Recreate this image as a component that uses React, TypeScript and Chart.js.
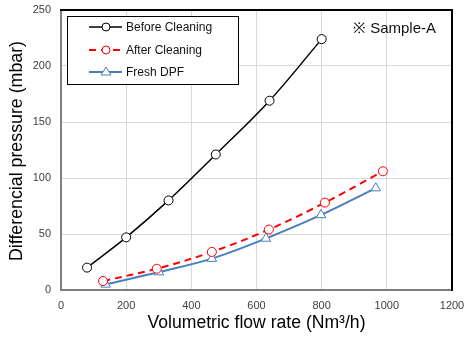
import React, { useEffect, useRef } from "react";
import { Chart, registerables } from "chart.js";

Chart.register(...registerables);

const flowBefore = [80, 200, 330, 475, 640, 800];
const dpBefore = [20, 47, 80, 121, 169, 224];
const flowAfter = [129, 294, 463, 638, 810, 988];
const dpAfter = [8, 19, 34, 54, 78, 106];
const flowFresh = [137, 301, 463, 629, 798, 966];
const dpFresh = [5, 16, 28, 46, 67, 91];

const seriesNames = ["Before Cleaning", "After Cleaning", "Fresh DPF"];
const xTitle = "Volumetric flow rate (Nm³/h)";
const yTitle = "Differencial pressure (mbar)";
const note = "※ Sample-A";

const FONT = "'Liberation Sans', Arial, sans-serif";
const BLUE = "#4a7ebb";

const toPts = (xs: number[], ys: number[]) => xs.map((x, i) => ({ x, y: ys[i] }));

const zeroPad = (s: any) => {
  s.paddingTop = 0;
  s.paddingBottom = 0;
  s.paddingLeft = 0;
  s.paddingRight = 0;
};

const decorPlugin = {
  id: "decor",
  afterDatasetsDraw(chart: any) {
    const { ctx, chartArea: a } = chart;
    ctx.save();
    ctx.lineWidth = 2;
    ctx.strokeStyle = "#7f7f7f";
    ctx.beginPath();
    ctx.moveTo(a.left, a.top);
    ctx.lineTo(a.left, a.bottom);
    ctx.lineTo(a.right, a.bottom);
    ctx.stroke();
    ctx.strokeStyle = "#000";
    ctx.beginPath();
    ctx.moveTo(a.left - 1, a.top);
    ctx.lineTo(a.right, a.top);
    ctx.lineTo(a.right, a.bottom + 1);
    ctx.stroke();
    ctx.restore();
  },
  afterDraw(chart: any) {
    const { ctx, chartArea: a } = chart;
    ctx.save();
    const bx = a.left + 6, by = a.top + 6, bw = 171, bh = 68;
    ctx.fillStyle = "#fff";
    ctx.fillRect(bx, by, bw, bh);
    ctx.strokeStyle = "#000";
    ctx.lineWidth = 1;
    ctx.strokeRect(bx + 0.5, by + 0.5, bw, bh);
    const rows = [by + 11, by + 34, by + 56];
    chart.data.datasets.forEach((ds: any, i: number) => {
      const y = rows[i];
      ctx.strokeStyle = ds.borderColor;
      ctx.lineWidth = ds.borderWidth;
      ctx.setLineDash(ds.borderDash || []);
      ctx.beginPath();
      ctx.moveTo(bx + 22, y);
      ctx.lineTo(bx + 55, y);
      ctx.stroke();
      ctx.setLineDash([]);
      ctx.lineWidth = ds.pointBorderWidth;
      ctx.fillStyle = "#fff";
      ctx.beginPath();
      if (ds.pointStyle === "triangle") {
        const r = 5;
        ctx.moveTo(bx + 39, y - r);
        ctx.lineTo(bx + 39 + r, y + r * 0.6);
        ctx.lineTo(bx + 39 - r, y + r * 0.6);
        ctx.closePath();
      } else {
        ctx.arc(bx + 39, y, 4, 0, Math.PI * 2);
      }
      ctx.fill();
      ctx.stroke();
      ctx.fillStyle = "#111";
      ctx.font = `12px ${FONT}`;
      ctx.textBaseline = "middle";
      ctx.textAlign = "left";
      ctx.fillText(ds.label, bx + 59, y + 1);
    });
    ctx.font = `15px ${FONT}`;
    ctx.fillStyle = "#111";
    ctx.textBaseline = "middle";
    ctx.fillText(note, 353, 29);
    ctx.fillStyle = "#000";
    ctx.font = `17.6px ${FONT}`;
    ctx.textAlign = "center";
    ctx.fillText(xTitle, (a.left + a.right) / 2 + 0, 323);
    ctx.font = `17.8px ${FONT}`;
    ctx.translate(17, 151);
    ctx.rotate(-Math.PI / 2);
    ctx.fillText(yTitle, 0, 0);
    ctx.restore();
  },
};

export default function App() {
  const ref = useRef<HTMLCanvasElement>(null);
  useEffect(() => {
    if (!ref.current) return;
    const chart = new Chart(ref.current, {
      type: "line",
      data: {
        datasets: [
          {
            label: seriesNames[0],
            data: toPts(flowBefore, dpBefore),
            borderColor: "#000",
            borderWidth: 1.5,
            pointStyle: "circle",
            pointRadius: 4.5,
            pointBorderWidth: 1,
            pointBorderColor: "#000",
            pointBackgroundColor: "#fff",
            tension: 0.35,
          },
          {
            label: seriesNames[1],
            data: toPts(flowAfter, dpAfter),
            borderColor: "#ff0000",
            borderWidth: 2,
            borderDash: [7, 5],
            pointStyle: "circle",
            pointRadius: 4.5,
            pointBorderWidth: 1,
            pointBorderColor: "#ff0000",
            pointBackgroundColor: "#fff",
            tension: 0.35,
          },
          {
            label: seriesNames[2],
            data: toPts(flowFresh, dpFresh),
            borderColor: BLUE,
            borderWidth: 2,
            pointStyle: "triangle",
            pointRadius: 5.5,
            pointBorderWidth: 1,
            pointBorderColor: BLUE,
            pointBackgroundColor: "#fff",
            tension: 0.35,
          },
        ] as any,
      },
      options: {
        responsive: false,
        animation: false,
        events: [],
        layout: { autoPadding: false, padding: { top: 10, right: 14, left: 0, bottom: 0 } },
        plugins: { legend: { display: false }, tooltip: { enabled: false } },
        scales: {
          x: {
            type: "linear",
            min: 0,
            max: 1200,
            ticks: { stepSize: 200, font: { size: 11, family: FONT }, color: "#404040", padding: 9, callback: (v: any) => String(v) },
            grid: { color: "#d9d9d9", drawTicks: false },
            border: { display: false },
            afterFit: (s: any) => { s.height = 48; zeroPad(s); },
          },
          y: {
            type: "linear",
            min: 0,
            max: 250,
            ticks: { stepSize: 50, font: { size: 11, family: FONT }, color: "#404040", padding: 10, callback: (v: any) => String(v) },
            grid: { color: "#d9d9d9", drawTicks: false },
            border: { display: false },
            afterFit: (s: any) => { s.width = 61; zeroPad(s); },
          },
        },
      } as any,
      plugins: [decorPlugin],
    });
    return () => chart.destroy();
  }, []);
  return (
    <div style={{ position: "absolute", left: 0, top: 0, width: 466, height: 338, background: "#fff" }}>
      <canvas ref={ref} width={466} height={338} />
    </div>
  );
}
